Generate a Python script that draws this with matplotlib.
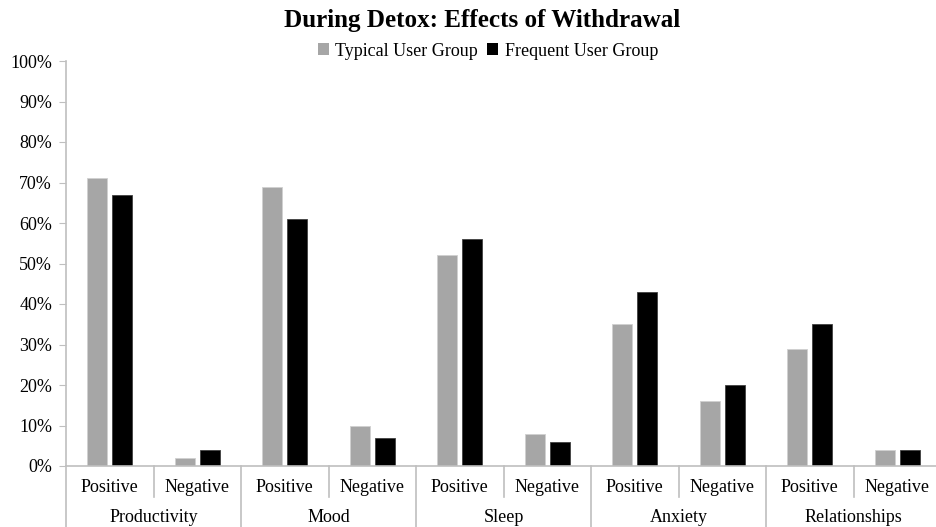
import numpy as np
import matplotlib.pyplot as plt
import matplotlib.transforms as mtransforms
from matplotlib.patches import Patch

plt.rcParams['font.family'] = ['Liberation Serif', 'DejaVu Serif']

# data
categories = ['Productivity', 'Mood', 'Sleep', 'Anxiety', 'Relationships']
effects = ['Positive', 'Negative']
typical = [71, 2, 69, 10, 52, 8, 35, 16, 29, 4]
frequent = [67, 4, 61, 7, 56, 6, 43, 20, 35, 4]
series_names = ['Typical User Group', 'Frequent User Group']

grid_col = '#bfbfbf'
gray = '#a6a6a6'

fig = plt.figure(figsize=(9.36, 5.27), dpi=100)
ax = fig.add_axes([66 / 936, 61 / 527, 875 / 936, 405 / 527])

n = len(typical)
x = np.arange(n) + 0.5
w = 0.224
off = 0.143
ax.bar(x - off, np.array(typical) / 100, w, color=gray, edgecolor='#d0d0d0', linewidth=0.6)
ax.bar(x + off, np.array(frequent) / 100, w, color='black', edgecolor='#404040', linewidth=0.6)

ax.set_xlim(0, n)
ax.set_ylim(0, 1)
ax.set_yticks(np.arange(0, 1.01, 0.1))
ax.set_yticklabels([f'{v}%' for v in range(0, 101, 10)], fontsize=13)
ax.tick_params(axis='y', length=5, color=grid_col, pad=5)
ax.set_xticks([])
for s in ['top', 'right']:
    ax.spines[s].set_visible(False)
for s in ['left', 'bottom']:
    ax.spines[s].set_color(grid_col)
    ax.spines[s].set_linewidth(1.2)

# multi-level category axis
trans = mtransforms.blended_transform_factory(ax.transData, ax.transAxes)
for i in range(n):
    ax.text(i + 0.5, -0.052, effects[i % 2], transform=trans, ha='center', va='center',
            fontsize=13, clip_on=False)
for j, c in enumerate(categories):
    ax.text(2 * j + 1, -0.126, c, transform=trans, ha='center', va='center',
            fontsize=13, clip_on=False)
for k in range(n + 1):
    bottom = -0.151 if k % 2 == 0 else -0.0765
    ax.plot([k, k], [0, bottom], transform=trans, color=grid_col, lw=1.2, clip_on=False)

fig.text(482 / 936, 1 - 21 / 527, 'During Detox: Effects of Withdrawal', ha='center', va='center',
         fontsize=18.1, fontweight='bold')
handles = [Patch(facecolor=gray, edgecolor='none'), Patch(facecolor='black', edgecolor='none')]
fig.legend(handles, series_names, loc='center', bbox_to_anchor=(488 / 936, 1 - 51 / 527), ncol=2,
           frameon=False, fontsize=13, handlelength=0.62, handleheight=0.62, handletextpad=0.35,
           columnspacing=0.5, borderpad=0.2)

fig.savefig('out.png', dpi=100)
